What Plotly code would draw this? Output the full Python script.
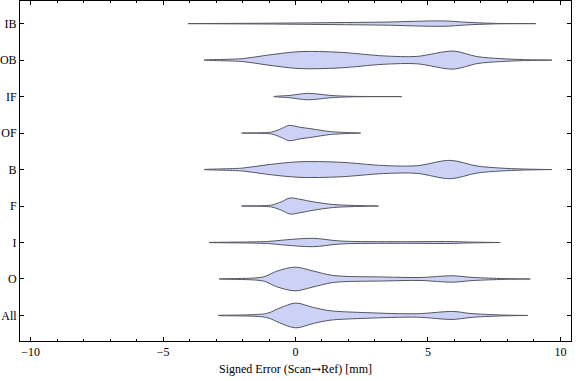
import plotly.graph_objects as go

# Categories (bottom to top)
categories = ["All", "O", "I", "F", "B", "OF", "IF", "OB", "IB"]

# Violin outlines: x positions (mm) and half-widths (category units)
x_all = [-2.92, -1.09, -0.59, 0.01, 0.67, 1.30, 2.69, 4.58, 5.96, 6.59, 7.73, 8.77]
w_all = [0.0, 0.055, 0.205, 0.34, 0.22, 0.13, 0.077, 0.047, 0.11, 0.055, 0.014, 0.0]

x_o = [-2.88, -1.22, -0.72, -0.02, 0.66, 1.42, 3.31, 4.70, 5.96, 6.59, 7.73, 8.86]
w_o = [0.0, 0.055, 0.21, 0.325, 0.22, 0.096, 0.055, 0.041, 0.088, 0.047, 0.014, 0.0]

x_i = [-3.26, -1.09, -0.34, 0.67, 1.68, 3.95, 5.84, 6.47, 7.73]
w_i = [0.0, 0.027, 0.074, 0.115, 0.041, 0.022, 0.027, 0.014, 0.0]

x_f = [-2.04, -0.90, -0.53, -0.21, 0.17, 0.67, 1.43, 2.17, 3.13]
w_f = [0.0, 0.027, 0.118, 0.22, 0.184, 0.115, 0.041, 0.016, 0.0]

x_b = [-3.45, -1.98, -1.09, 0.17, 1.68, 3.32, 4.58, 5.84, 6.85, 7.73, 8.61, 9.68]
w_b = [0.0, 0.041, 0.129, 0.214, 0.2, 0.11, 0.104, 0.252, 0.096, 0.041, 0.014, 0.0]

x_of = [-2.04, -0.90, -0.53, -0.24, 0.17, 0.66, 1.30, 2.46]
w_of = [0.0, 0.027, 0.123, 0.21, 0.159, 0.11, 0.041, 0.0]

x_if = [-0.82, -0.21, 0.48, 1.30, 2.06, 4.01]
w_if = [0.0, 0.033, 0.088, 0.033, 0.008, 0.0]

x_ob = [-3.45, -1.98, -1.09, 0.17, 1.68, 3.32, 4.58, 5.96, 6.85, 7.73, 8.61, 9.68]
w_ob = [0.0, 0.041, 0.132, 0.233, 0.214, 0.115, 0.101, 0.247, 0.096, 0.041, 0.014, 0.0]

x_ib = [-4.06, -1.09, 1.42, 3.31, 5.58, 6.47, 7.47, 9.08]
w_ib = [0.0, 0.011, 0.027, 0.041, 0.074, 0.036, 0.008, 0.0]

series_x = [x_all, x_o, x_i, x_f, x_b, x_of, x_if, x_ob, x_ib]
series_w = [w_all, w_o, w_i, w_f, w_b, w_of, w_if, w_ob, w_ib]

fill_color = "rgba(204,210,245,1)"
line_color = "rgb(85,85,95)"
font_family = "Liberation Serif, DejaVu Serif, serif"

fig = go.Figure()
for k, (name, xs, ws) in enumerate(zip(categories, series_x, series_w)):
    c = k + 1
    px = list(xs) + list(reversed(xs))
    py = [c + w for w in ws] + [c - w for w in reversed(ws)]
    fig.add_trace(go.Scatter(
        x=px, y=py, mode="lines", fill="toself",
        fillcolor=fill_color,
        line=dict(color=line_color, width=1, shape="spline", smoothing=0.9),
        hoverinfo="skip", showlegend=False, name=name,
    ))

fig.update_layout(
    width=576, height=381,
    margin=dict(l=20, r=5, t=1, b=40, autoexpand=False),
    paper_bgcolor="white", plot_bgcolor="white",
    font=dict(family=font_family, size=12, color="black"),
    showlegend=False,
)
fig.update_xaxes(
    range=[-10.4, 10.4], tickvals=[-10, -5, 0, 5, 10],
    ticks="inside", ticklen=4, tickcolor="black", tickwidth=1,
    minor=dict(dtick=1, tick0=0, ticks="inside", ticklen=2, tickcolor="black", showgrid=False),
    showline=True, linecolor="black", linewidth=1, mirror="ticks",
    showgrid=False, zeroline=False, automargin=False,
    title=dict(text="Signed Error (Scan<span style=\"font-family:DejaVu Serif\">→</span>Ref) [mm]",
               standoff=6, font=dict(size=12)),
    tickfont=dict(size=12),
)
fig.update_yaxes(
    range=[0.30, 9.62], tickvals=list(range(1, 10)), ticktext=categories,
    ticks="inside", ticklen=4, tickcolor="black", tickwidth=1,
    showline=True, linecolor="black", linewidth=1, mirror="ticks",
    showgrid=False, zeroline=False, automargin=False, tickfont=dict(size=12),
)

fig.write_html("out.html", config={"displayModeBar": False},
               post_script="document.body.style.margin='0px';document.body.style.overflow='hidden';")
